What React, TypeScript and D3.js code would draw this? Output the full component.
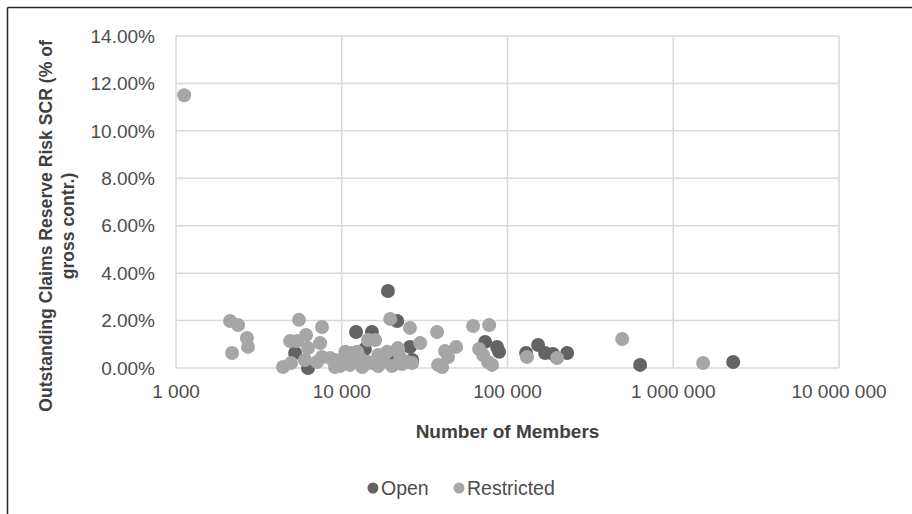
import React from 'react';
import * as d3 from 'd3';

// Number of members / outstanding claims reserve risk SCR (% of gross contr.)
const openMembers = [5230, 6260, 19000, 21600, 12200, 15200, 25800, 13800, 20400, 26600,
  73300, 86500, 89000, 129500, 153000, 168600, 188000, 229000, 631000, 2300000];
const openScr = [0.63, 0.0, 3.25, 1.98, 1.52, 1.52, 0.89, 0.80, 0.38, 0.34,
  1.10, 0.89, 0.68, 0.63, 0.97, 0.63, 0.59, 0.63, 0.13, 0.25];

const restrictedMembers = [1120, 2120, 2370, 2680, 2720, 2180, 5520, 7600, 6090, 7400,
  4880, 5370, 6260, 4420, 4940, 6000, 7600, 7100, 8500, 9100,
  10000, 10800, 11500, 12400, 12900, 14400, 15900, 11200, 13300, 15200,
  16600, 18800, 17500, 21900, 22500, 24800, 26600, 29700, 25800, 19600,
  37600, 42000, 49000, 43800, 38100, 9100, 62000, 77500, 67400, 71300,
  76300, 80700, 131000, 199000, 492000, 1514000, 40300, 17750, 21800,
  9770, 12000, 14400, 16600, 20100, 23100, 10500];
const restrictedScr = [11.5, 1.98, 1.81, 1.27, 0.89, 0.63, 2.03, 1.73, 1.39, 1.05,
  1.14, 1.14, 0.84, 0.04, 0.21, 0.34, 0.46, 0.25, 0.42, 0.04,
  0.25, 0.46, 0.63, 0.68, 0.42, 1.18, 1.18, 0.13, 0.04, 0.21,
  0.55, 0.68, 0.25, 0.76, 0.46, 0.25, 0.21, 1.05, 1.69, 2.07,
  1.52, 0.72, 0.89, 0.46, 0.13, 0.34, 1.77, 1.81, 0.80, 0.55,
  0.25, 0.13, 0.46, 0.42, 1.22, 0.21, 0.04, 0.42, 0.84,
  0.08, 0.34, 0.25, 0.08, 0.08, 0.17, 0.68];

const xTicks = [1000, 10000, 100000, 1000000, 10000000];
const yTicks = [0, 2, 4, 6, 8, 10, 12, 14];

const seriesNames = ['Open', 'Restricted'];
const seriesColors = ['#636363', '#a6a6a6'];

const W = 912;
const H = 514;
const plot = { left: 176, right: 839, top: 36, bottom: 368 };

const fontFamily = '"Liberation Sans", Arial, sans-serif';
const tickColor = '#4d4d4d';
const titleColor = '#404040';

const spaceLocale = d3.formatLocale({ decimal: '.', thousands: ' ', grouping: [3], currency: ['', ''] });
const fmtMembers = spaceLocale.format(',');
const fmtPct = (d: number) => `${d3.format('.2f')(d)}%`;

export default function App() {
  const x = d3.scaleLog().domain([1000, 10000000]).range([plot.left, plot.right]);
  const y = d3.scaleLinear().domain([0, 14]).range([plot.bottom, plot.top]);

  const open = openMembers.map((m, i) => ({ m, v: openScr[i] }));
  const restricted = restrictedMembers.map((m, i) => ({ m, v: restrictedScr[i] }));

  const yTitleCy = 226;
  const legendY = 488;

  return (
    <svg width={W} height={H} style={{ position: 'absolute', left: 0, top: 0, background: '#fff' }}
      fontFamily={fontFamily}>
      <rect width={W} height={H} fill="#fff" />
      {/* outer frame (only top + left visible) */}
      <line x1={7.5} x2={W} y1={7.5} y2={7.5} stroke="#262626" strokeWidth={1.5} />
      <line x1={7.5} x2={7.5} y1={7.5} y2={H} stroke="#262626" strokeWidth={1.5} />

      {/* gridlines */}
      <g stroke="#d9d9d9" strokeWidth={1.5}>
        {yTicks.map(t => (
          <line key={'gy' + t} x1={plot.left} x2={plot.right} y1={y(t)} y2={y(t)} />
        ))}
        {xTicks.map(t => (
          <line key={'gx' + t} x1={x(t)} x2={x(t)} y1={plot.top} y2={plot.bottom} />
        ))}
      </g>

      {/* y tick labels */}
      <g fontSize={19} fill={tickColor} textAnchor="end">
        {yTicks.map(t => (
          <text key={'ty' + t} x={155} y={y(t)} dy="0.35em">{fmtPct(t)}</text>
        ))}
      </g>

      {/* x tick labels */}
      <g fontSize={19} fill={tickColor} textAnchor="middle">
        {xTicks.map(t => (
          <text key={'tx' + t} x={x(t)} y={391} dy="0.35em">{fmtMembers(t)}</text>
        ))}
      </g>

      {/* points: Open first, Restricted on top */}
      <g fill={seriesColors[0]}>
        {open.map((d, i) => (
          <circle key={'o' + i} cx={x(d.m)} cy={y(d.v)} r={7} />
        ))}
      </g>
      <g fill={seriesColors[1]}>
        {restricted.map((d, i) => (
          <circle key={'r' + i} cx={x(d.m)} cy={y(d.v)} r={7} />
        ))}
      </g>

      {/* axis titles */}
      <text x={(plot.left + plot.right) / 2} y={431} dy="0.35em" textAnchor="middle"
        fontSize={19} fontWeight="bold" fill={titleColor}>Number of Members</text>
      <g transform={`translate(0, ${yTitleCy}) rotate(-90)`} fontSize={17.6} fontWeight="bold"
        fill={titleColor} textAnchor="middle">
        <text x={0} y={46} dy="0.35em">Outstanding Claims Reserve Risk SCR (% of</text>
        <text x={0} y={68} dy="0.35em">gross contr.)</text>
      </g>

      {/* legend */}
      <g fontSize={19.5} fill={tickColor}>
        <circle cx={373} cy={legendY} r={5.5} fill={seriesColors[0]} />
        <text x={381} y={legendY} dy="0.35em">{seriesNames[0]}</text>
        <circle cx={459} cy={legendY} r={5.5} fill={seriesColors[1]} />
        <text x={467} y={legendY} dy="0.35em">{seriesNames[1]}</text>
      </g>
    </svg>
  );
}
